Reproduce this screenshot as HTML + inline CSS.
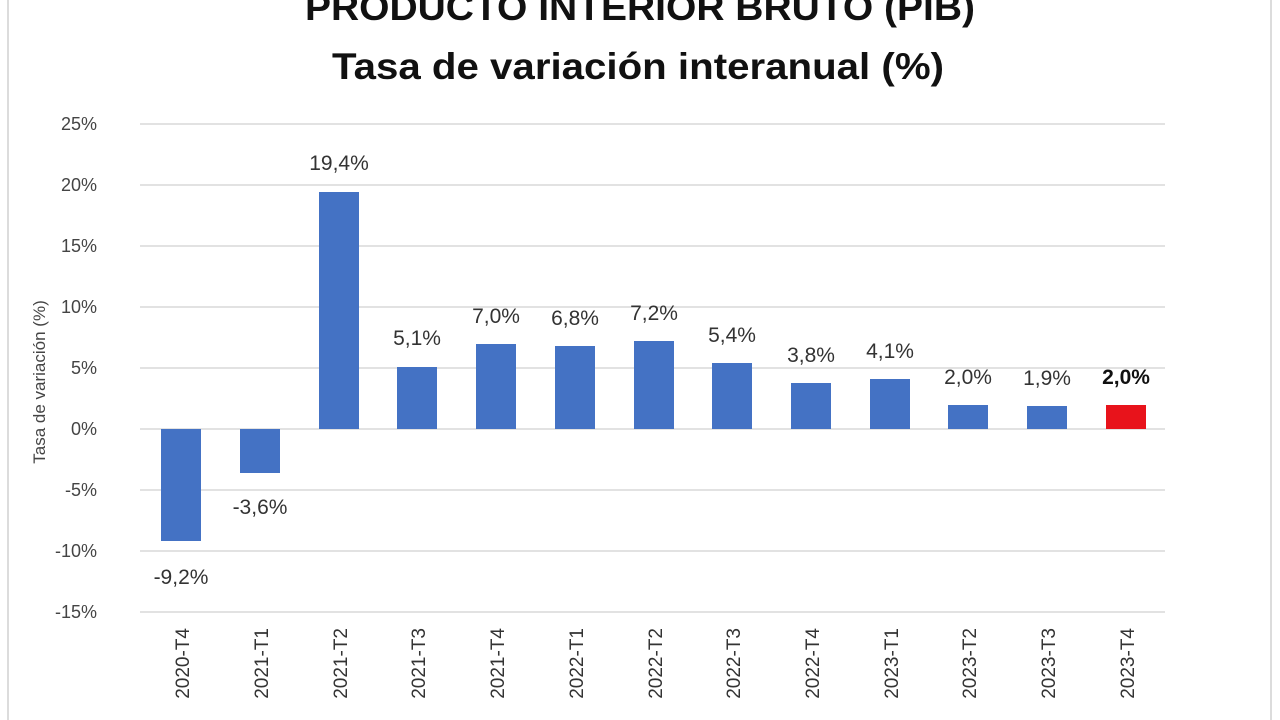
<!DOCTYPE html>
<html><head><meta charset="utf-8"><style>
html,body{margin:0;padding:0;background:#fff;}
svg{display:block;}
text{font-family:"Liberation Sans",sans-serif;}
</style></head><body>
<svg width="1280" height="720" viewBox="0 0 1280 720" xmlns="http://www.w3.org/2000/svg">
<rect width="1280" height="720" fill="#fff"/>
<line x1="8" y1="0" x2="8" y2="720" stroke="#d0d0d0" stroke-width="1.5"/>
<line x1="1271" y1="0" x2="1271" y2="720" stroke="#d0d0d0" stroke-width="1.5"/>
<text x="640" y="20" font-size="37" font-weight="bold" text-anchor="middle" fill="#111" textLength="670" lengthAdjust="spacingAndGlyphs">PRODUCTO INTERIOR BRUTO (PIB)</text>
<text x="638" y="79" font-size="37" font-weight="bold" text-anchor="middle" fill="#111" textLength="612" lengthAdjust="spacingAndGlyphs">Tasa de variación interanual (%)</text>
<g stroke="#d9d9d9" stroke-width="1.5">
<line x1="140" y1="124" x2="1165" y2="124"/>
<line x1="140" y1="185" x2="1165" y2="185"/>
<line x1="140" y1="246" x2="1165" y2="246"/>
<line x1="140" y1="307" x2="1165" y2="307"/>
<line x1="140" y1="368" x2="1165" y2="368"/>
<line x1="140" y1="429" x2="1165" y2="429"/>
<line x1="140" y1="490" x2="1165" y2="490"/>
<line x1="140" y1="551" x2="1165" y2="551"/>
<line x1="140" y1="612" x2="1165" y2="612"/>
</g>
<g font-size="18" fill="#444" text-anchor="end">
<text x="97" y="130">25%</text>
<text x="97" y="191">20%</text>
<text x="97" y="252">15%</text>
<text x="97" y="313">10%</text>
<text x="97" y="374">5%</text>
<text x="97" y="435">0%</text>
<text x="97" y="496">-5%</text>
<text x="97" y="557">-10%</text>
<text x="97" y="618">-15%</text>
</g>
<text transform="translate(45,382) rotate(-90)" font-size="17" fill="#444" text-anchor="middle">Tasa de variación (%)</text>
<g fill="#4472c4">
<rect x="161" y="429" width="40" height="112"/>
<rect x="240" y="429" width="40" height="44"/>
<rect x="319" y="192" width="40" height="237"/>
<rect x="397" y="367" width="40" height="62"/>
<rect x="476" y="344" width="40" height="85"/>
<rect x="555" y="346" width="40" height="83"/>
<rect x="634" y="341" width="40" height="88"/>
<rect x="712" y="363" width="40" height="66"/>
<rect x="791" y="383" width="40" height="46"/>
<rect x="870" y="379" width="40" height="50"/>
<rect x="948" y="405" width="40" height="24"/>
<rect x="1027" y="406" width="40" height="23"/>
<rect x="1106" y="405" width="40" height="24" fill="#e8131b"/>
</g>
<g font-size="21" fill="#333" text-anchor="middle">
<text x="181" y="584">-9,2%</text>
<text x="260" y="514">-3,6%</text>
<text x="339" y="170">19,4%</text>
<text x="417" y="345">5,1%</text>
<text x="496" y="323">7,0%</text>
<text x="575" y="325">6,8%</text>
<text x="654" y="320">7,2%</text>
<text x="732" y="342">5,4%</text>
<text x="811" y="362">3,8%</text>
<text x="890" y="358">4,1%</text>
<text x="968" y="384">2,0%</text>
<text x="1047" y="385">1,9%</text>
<text x="1126" y="384" font-weight="bold" fill="#111">2,0%</text>
</g>
<g font-size="19" fill="#333" text-anchor="end">
<text transform="translate(189,628) rotate(-90)">2020-T4</text>
<text transform="translate(268,628) rotate(-90)">2021-T1</text>
<text transform="translate(347,628) rotate(-90)">2021-T2</text>
<text transform="translate(425,628) rotate(-90)">2021-T3</text>
<text transform="translate(504,628) rotate(-90)">2021-T4</text>
<text transform="translate(583,628) rotate(-90)">2022-T1</text>
<text transform="translate(662,628) rotate(-90)">2022-T2</text>
<text transform="translate(740,628) rotate(-90)">2022-T3</text>
<text transform="translate(819,628) rotate(-90)">2022-T4</text>
<text transform="translate(898,628) rotate(-90)">2023-T1</text>
<text transform="translate(976,628) rotate(-90)">2023-T2</text>
<text transform="translate(1055,628) rotate(-90)">2023-T3</text>
<text transform="translate(1134,628) rotate(-90)">2023-T4</text>
</g>
</svg>
</body></html>
